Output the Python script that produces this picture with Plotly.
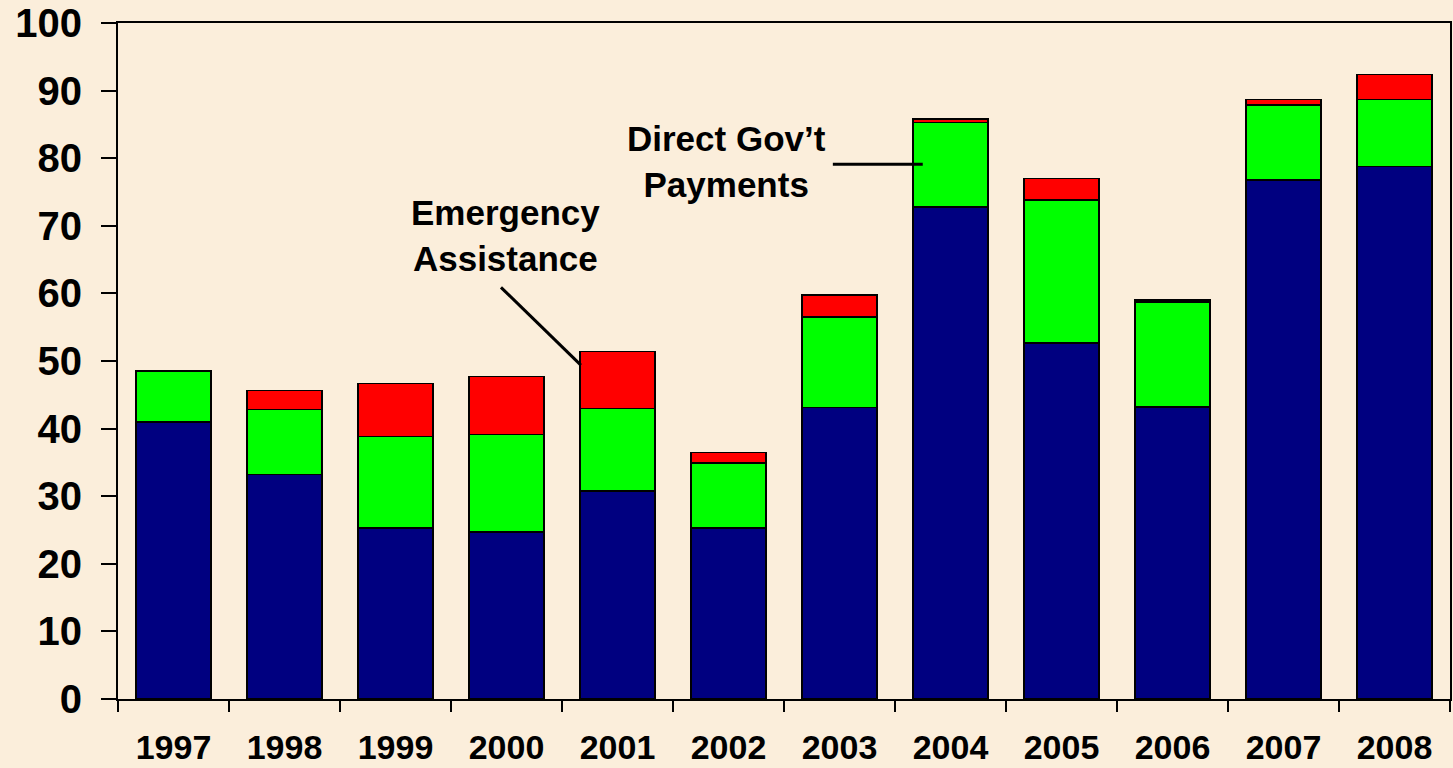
import plotly.graph_objects as go

years = ["1997", "1998", "1999", "2000", "2001", "2002",
         "2003", "2004", "2005", "2006", "2007", "2008"]
base_values = [41.0, 33.2, 25.3, 24.7, 30.8, 25.3, 43.1, 72.8, 52.7, 43.2, 76.8, 78.8]
direct_payments = [7.5, 9.6, 13.5, 14.4, 12.2, 9.6, 13.4, 12.5, 21.1, 15.5, 11.1, 9.9]
emergency_assistance = [0.0, 2.8, 7.9, 8.6, 8.4, 1.6, 3.3, 0.5, 3.2, 0.3, 0.8, 3.7]
y_ticks = [0, 10, 20, 30, 40, 50, 60, 70, 80, 90, 100]

FONT = "Liberation Sans, Arial, sans-serif"
BG = "#FBEEDB"

fig = go.Figure()
for name, vals, col in [("Base", base_values, "#000080"),
                        ("Direct Gov't Payments", direct_payments, "#00FF00"),
                        ("Emergency Assistance", emergency_assistance, "#FF0000")]:
    fig.add_trace(go.Bar(x=years, y=vals, name=name, marker_color=col,
                         marker_line=dict(color="black", width=1.5)))

fig.update_layout(
    barmode="stack",
    bargap=0.32,
    width=1453, height=768,
    margin=dict(l=118, r=3, t=23, b=69),
    paper_bgcolor=BG, plot_bgcolor=BG,
    showlegend=False,
    font=dict(family=FONT, color="black", weight="bold"),
)
fig.update_xaxes(
    type="category", showline=True, linecolor="black", linewidth=2, mirror=True,
    ticks="outside", tickson="boundaries", ticklen=11, tickwidth=2, tickcolor="black",
    tickfont=dict(size=34, family=FONT, weight="bold"), ticklabelstandoff=17,
    showgrid=False, range=[-0.5, 11.5], automargin=False,
)
fig.update_yaxes(
    range=[0, 100], tickvals=y_ticks, showline=True, linecolor="black", linewidth=2,
    mirror=True, ticks="outside", ticklen=15, tickwidth=2, tickcolor="black",
    tickfont=dict(size=40, family=FONT, weight="bold"), ticklabelstandoff=11,
    showgrid=False, zeroline=False, automargin=False,
)

# callout lines
fig.add_shape(type="line", xref="x", yref="y", x0=2.95, y0=60.9, x1=3.67, y1=49.4,
              line=dict(color="black", width=3))
fig.add_shape(type="line", xref="x", yref="y", x0=5.94, y0=79.1, x1=6.75, y1=79.1,
              line=dict(color="black", width=3))

fig.add_annotation(x=2.99, y=68.5, xref="x", yref="y", text="Emergency<br>Assistance",
                   showarrow=False, font=dict(size=35, family=FONT, weight="bold"),
                   xanchor="center", yanchor="middle")
fig.add_annotation(x=4.98, y=79.5, xref="x", yref="y", text="Direct Gov’t<br>Payments",
                   showarrow=False, font=dict(size=35, family=FONT, weight="bold"),
                   xanchor="center", yanchor="middle")

fig.write_html(
    "out.html",
    config={"displayModeBar": False},
    post_script="document.body.style.margin='0';document.body.style.background='%s';" % BG,
)
